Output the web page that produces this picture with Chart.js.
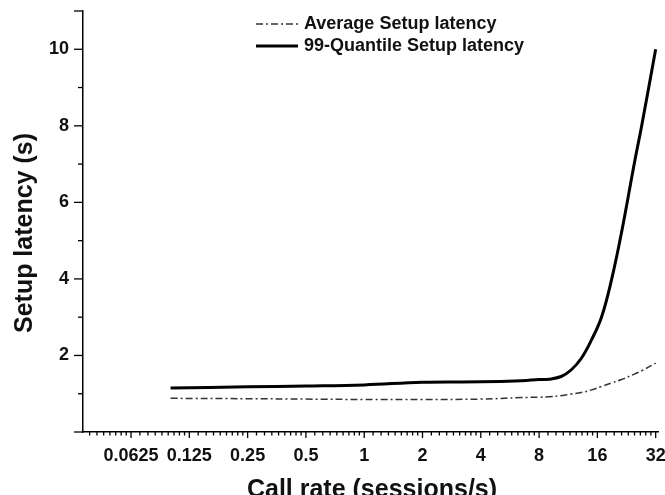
<!DOCTYPE html>
<html>
<head>
<meta charset="utf-8">
<title>Setup latency vs call rate</title>
<script src="https://cdn.jsdelivr.net/npm/chart.js@4.4.0/dist/chart.umd.min.js"></script>
<style>
  html, body { margin: 0; padding: 0; background: #fff; }
  #wrap { width: 665px; height: 495px; }
</style>
</head>
<body>
<div id="wrap"><canvas id="latencyChart" width="665" height="495"></canvas></div>
<script>
// values
const callRates  = [0.1, 0.25, 0.5, 1, 2, 4, 6.5, 8, 9, 10.4, 11.7, 13.2, 14.9, 16.8, 18.9, 21.3, 25, 27.1, 32];
const avgLatency = [0.88, 0.87, 0.86, 0.85, 0.85, 0.86, 0.90, 0.91, 0.92, 0.95, 0.99, 1.03, 1.10, 1.19, 1.28, 1.37, 1.52, 1.60, 1.80];
const q99Latency = [1.15, 1.18, 1.20, 1.23, 1.30, 1.31, 1.34, 1.37, 1.38, 1.45, 1.62, 1.92, 2.40, 3.00, 3.96, 5.20, 7.10, 8.00, 10.0];

const xMajorTicks = [0.0625, 0.125, 0.25, 0.5, 1, 2, 4, 8, 16, 32];
const xTickLabels = ['0.0625', '0.125', '0.25', '0.5', '1', '2', '4', '8', '16', '32'];
const yLabelValues = [2, 4, 6, 8, 10];
const yTickLabels = ['2', '4', '6', '8', '10'];

const seriesNames = ['Average Setup latency', '99-Quantile Setup latency'];
const FONT = "'Liberation Sans', Arial, Helvetica, sans-serif";
const AVG_DASH = [7, 3, 2, 3];

function toPoints(ys) {
    return callRates.map((r, i) => ({ x: r, y: ys[i] }));
}

// axis tick marks, legend and axis titles
const axisDecor = {
    id: 'axisDecor',
    afterDraw(chart) {
        const ctx = chart.ctx;
        const xs = chart.scales.x, ys = chart.scales.y;
        ctx.save();
        ctx.strokeStyle = '#000';
        ctx.lineWidth = 1.3;
        xs.ticks.forEach(t => {
            const px = xs.getPixelForValue(t.value);
            const len = t.major ? 6 : 3.5;
            ctx.beginPath();
            ctx.moveTo(px, xs.top);
            ctx.lineTo(px, xs.top + len);
            ctx.stroke();
        });
        ys.ticks.forEach(t => {
            const py = ys.getPixelForValue(t.value);
            const len = (t.value % 2 === 0 || t.value === ys.max) ? 9 : 5;
            ctx.beginPath();
            ctx.moveTo(ys.right, py);
            ctx.lineTo(ys.right - len, py);
            ctx.stroke();
        });

        // legend
        const ds = chart.data.datasets;
        const rows = [24, 46];
        ctx.font = 'bold 18px ' + FONT;
        ctx.textBaseline = 'middle';
        ctx.textAlign = 'left';
        ctx.fillStyle = '#111';
        ds.forEach((d, i) => {
            ctx.beginPath();
            ctx.strokeStyle = d.borderColor;
            ctx.lineWidth = d.borderWidth;
            ctx.setLineDash(d.borderDash || []);
            ctx.moveTo(256, rows[i]);
            ctx.lineTo(298, rows[i]);
            ctx.stroke();
            ctx.setLineDash([]);
            ctx.fillText(d.label, 304, rows[i]);
        });

        // axis titles
        ctx.font = 'bold 25px ' + FONT;
        ctx.textAlign = 'center';
        ctx.textBaseline = 'alphabetic';
        ctx.fillText('Call rate (sessions/s)', 372, 497);
        ctx.save();
        ctx.translate(25, 233);
        ctx.rotate(-Math.PI / 2);
        ctx.textBaseline = 'middle';
        ctx.fillText('Setup latency (s)', 0, 0);
        ctx.restore();
        ctx.restore();
    }
};

new Chart(document.getElementById('latencyChart'), {
    type: 'line',
    data: {
        datasets: [
            {
                label: seriesNames[0],
                data: toPoints(avgLatency),
                borderColor: '#333',
                borderWidth: 1.5,
                borderDash: AVG_DASH,
                pointRadius: 0,
                tension: 0.4,
                fill: false
            },
            {
                label: seriesNames[1],
                data: toPoints(q99Latency),
                borderColor: '#000',
                borderWidth: 3,
                pointRadius: 0,
                tension: 0.4,
                fill: false
            }
        ]
    },
    options: {
        responsive: false,
        animation: false,
        devicePixelRatio: 1,
        layout: { padding: { left: 0, top: 11, right: 7, bottom: 0 } },
        plugins: { legend: { display: false }, tooltip: { enabled: false } },
        scales: {
            x: {
                type: 'logarithmic',
                min: 0.0353,
                max: 32.9,
                grid: { display: false, drawTicks: false },
                border: { display: true, color: '#000', width: 1.5 },
                ticks: {
                    autoSkip: false,
                    maxRotation: 0,
                    padding: 13,
                    color: '#111',
                    font: { family: FONT, size: 18, weight: 'bold' },
                    callback: function(value) {
                        const idx = xMajorTicks.indexOf(value);
                        return idx >= 0 ? xTickLabels[idx] : '';
                    }
                },
                afterBuildTicks: function(scale) {
                    const ticks = [];
                    const starts = [0.03125].concat(xMajorTicks);
                    starts.forEach(a => {
                        if (a >= scale.min && a <= scale.max) ticks.push({ value: a, major: true });
                        for (let k = 1; k <= 8; k++) {
                            const v = a * (1 + k / 9);
                            if (v >= scale.min && v <= scale.max) ticks.push({ value: v, major: false });
                        }
                    });
                    scale.ticks = ticks;
                },
                afterFit: function(scale) {
                    scale.height = 63;
                    scale.paddingLeft = 0;
                    scale.paddingRight = 0;
                }
            },
            y: {
                min: 0,
                max: 11,
                grid: { display: false, drawTicks: false },
                border: { display: true, color: '#000', width: 1.5 },
                ticks: {
                    stepSize: 1,
                    autoSkip: false,
                    padding: 14,
                    color: '#111',
                    font: { family: FONT, size: 18, weight: 'bold' },
                    callback: function(value) {
                        const idx = yLabelValues.indexOf(value);
                        return idx >= 0 ? yTickLabels[idx] : '';
                    }
                },
                afterFit: function(scale) {
                    scale.width = 83;
                    scale.paddingTop = 0;
                    scale.paddingBottom = 0;
                }
            }
        }
    },
    plugins: [axisDecor]
});
</script>
</body>
</html>
